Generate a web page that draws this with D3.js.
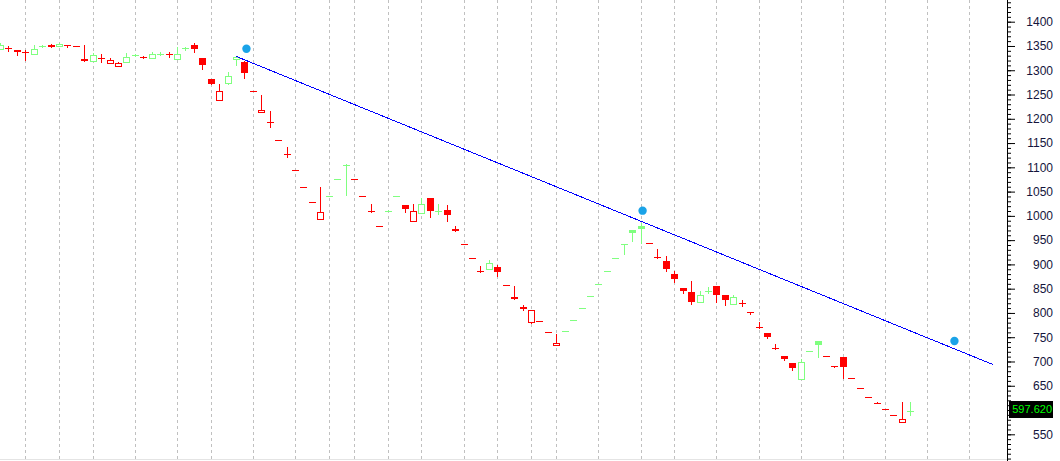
<!DOCTYPE html>
<html><head><meta charset="utf-8">
<script src="https://cdn.jsdelivr.net/npm/d3@7"></script>
<style>html,body{margin:0;padding:0;background:#fff;overflow:hidden}</style>
</head><body><svg id="c" width="1060" height="461"></svg>
<script>
// ---- data (daily OHLC, index = trading day) ----
const opens = [1344,1345,1342,1337,1333,1347,1351,1350.5,1351.5,1350,
  1323,1320,1325,1315.5,1308.5,1318,1329.5,1328,1325,1334,
  1332.5,1324,1345,1352,1325,1281,1238,1273,1324,1317,
  1257,1215,1194,1157,1127.5,1094,1060,1028,994,1041.5,
  1075,1105,1075,1041.5,1011,980,1010.5,1040,1022,990,
  1006.5,1036,1011,1013,972,942.5,913.5,887,890,895,
  858,832,813,781,784,761,733,763.5,785.5,810,
  835,860,887,913.5,942,970,980,944.5,916,908,
  881,852,844,823,846,856,836,819,821,802,
  772,759,728,711,697,663,722,743,711,690,
  710,666.5,646,627,614.3,602,590,575,598];
const highs = [1357,1350,1342,1342,1352,1351,1354,1357,1351.5,1350,
  1352,1336,1333,1325,1317,1336,1333,1330,1337,1337,
  1337,1348,1348,1357,1325,1281,1271,1296,1328,1320,
  1257,1249,1216,1157,1141,1094,1060,1028,1059,1041.5,
  1075,1106,1075,1041.5,1024,980,1012,1040,1022,1024,
  1036,1036,1024,1022,980,942.5,913.5,896,910,899,
  858,856,817,807,784,761,757,763.5,785.5,810,
  835,860,887,913.5,942.5,970,986,944.5,932,918,
  886,852,865,846,854,856,836,838,826,802,
  781,759,737,711,697,705,722,743,711,691,
  710,666.5,646,627,616,602,590,617,616];
const lows = [1344,1340,1332,1322,1333,1347,1347,1350.5,1347,1350,
  1319.5,1319.5,1317,1315.5,1308.5,1318,1329,1324.5,1324.5,1331,
  1328,1323.5,1342,1337,1303,1272,1238,1271,1311,1285,
  1257,1215,1183,1157,1121,1094,1060,1028,994,1041.5,
  1075,1043,1075,1041.5,1008,980,1009,1040,1008,990,
  1006.5,997.5,1003,989,969,942.5,913.5,884,890,877,
  858,828,807,780,784,761,733,763.5,785.5,810,
  835,860,887,913.5,922,948,944,944.5,913,886,
  863,842,819,823,841,823,817,819,815,798.5,
  768,748,725,704,683,663,722,708.5,711,688,
  667,666.5,646,627,614.3,602,590,575,589];
const closes = [1352,1345,1337,1336.5,1344,1350,1347,1354.5,1351,1350,
  1320,1331,1325,1321,1315,1328,1331.5,1325,1333,1334,
  1332.5,1333.5,1345,1344,1311,1272,1257,1288.5,1328,1295,
  1257,1219,1194,1157,1127.5,1094,1060,1028,1008.5,1041.5,
  1075,1105.5,1075,1041.5,1008,980,1010.5,1040,1014,1011,
  1025,1010,1011,1002,969,942.5,913.5,884,903,884,
  858,828,808,806.5,784,761,738,763.5,785.5,810,
  835,860,887,913.5,942.5,964,972,944.5,913,891,
  869.5,845,822,837,843,836,826,833,821,799,
  768,750.5,725,706,686,699.5,722,733,711,688.5,
  688,666.5,646,627,614.3,602,590,581,597.62];
const closeBeforeFirst = 1345;
const weekStarts = [3,7,11,16,21,25,30,35,39,42,46,50,55,59,63,66,71,76,80,85,90,95,100,105,110,115];
const trendIndex = [28, 117.85];
const trendValue = [1328.6, 693.4];
const pivotIndex = [29, 76, 113];
const pivotValue = [1344.3, 1010.7, 742.3];
const labelTicks = [550,650,700,750,800,850,900,950,1000,1050,1100,1150,1200,1250,1300,1350,1400];
const majorTicks = d3.range(550, 1450, 50);
const minorTicks = d3.range(500, 1450, 10);

// ---- drawing ----
const W = 1060, H = 461, axisX = 1007, plotBottom = 459;
const FONT = "12px 'Liberation Sans', Arial, sans-serif";
const svg = d3.select("#c");
svg.append("rect").attr("width", W).attr("height", H).attr("fill", "#fff");

const x = d3.scaleLinear().domain([3, 115]).range([25.3, 969.3]);
const y = d3.scaleLinear().domain([550, 1400]).range([434.3, 21.7]);

const GREEN = "#80ff80", RED = "#ff0000";

// vertical dashed gridlines
svg.append("g").selectAll("line").data(weekStarts).join("line")
  .attr("x1", d => Math.round(x(d)) + 0.5).attr("x2", d => Math.round(x(d)) + 0.5)
  .attr("y1", 0).attr("y2", plotBottom)
  .attr("stroke", "#c0c0c0").attr("stroke-width", 1).attr("stroke-dasharray", "3,3");

// bottom border
svg.append("line").attr("x1", 0).attr("x2", axisX).attr("y1", plotBottom + 0.5).attr("y2", plotBottom + 0.5)
  .attr("stroke", "#e4e4e4");

// candles
const candles = opens.map((o, i) => ({
  i, o, h: highs[i], l: lows[i], c: closes[i],
  pc: i === 0 ? closeBeforeFirst : closes[i - 1]
}));
const cg = svg.append("g").attr("shape-rendering", "crispEdges");
candles.forEach(d => {
  const col = d.c >= d.pc ? GREEN : RED;
  const cx = Math.round(x(d.i));
  const yh = Math.round(y(d.h)), yl = Math.round(y(d.l));
  cg.append("rect").attr("x", cx).attr("y", yh).attr("width", 1)
    .attr("height", Math.max(1, yl - yh + 1)).attr("fill", col);
  const top = Math.round(y(Math.max(d.o, d.c)));
  const bot = Math.round(y(Math.min(d.o, d.c)));
  const bh = bot - top;
  const left = cx - 3, bw = 7;
  if (d.c < d.o || bh < 2) {
    cg.append("rect").attr("x", left).attr("y", top).attr("width", bw)
      .attr("height", Math.max(1, bh)).attr("fill", col);
  } else {
    cg.append("rect").attr("x", left + 0.5).attr("y", top + 0.5).attr("width", bw - 1)
      .attr("height", bh).attr("fill", "#fff").attr("stroke", col).attr("stroke-width", 1);
  }
});

// trend line
svg.append("line")
  .attr("x1", x(trendIndex[0])).attr("y1", y(trendValue[0]))
  .attr("x2", x(trendIndex[1])).attr("y2", y(trendValue[1]))
  .attr("stroke", "#0000ff").attr("stroke-width", 1).attr("shape-rendering", "crispEdges");

// pivot dots
svg.append("g").selectAll("circle").data(pivotIndex).join("circle")
  .attr("cx", (d) => x(d) + 2).attr("cy", (d, k) => y(pivotValue[k]))
  .attr("r", 4.2).attr("fill", "#1aa3e8");

// right axis
svg.append("line").attr("x1", axisX + 0.5).attr("x2", axisX + 0.5).attr("y1", 0).attr("y2", H)
  .attr("stroke", "#000");
const minorAxis = d3.axisRight(y).tickValues(minorTicks).tickSize(4).tickFormat("");
const gMin = svg.append("g").attr("transform", `translate(${axisX},0)`).call(minorAxis);
gMin.select(".domain").remove();
const majorAxis = d3.axisRight(y).tickValues(majorTicks).tickSize(8)
  .tickFormat(d => labelTicks.includes(d) ? d3.format("d")(d) : "");
const gMaj = svg.append("g").attr("transform", `translate(${axisX},0)`).call(majorAxis);
gMaj.select(".domain").remove();
gMaj.selectAll("text").attr("x", 46).attr("text-anchor", "end")
  .attr("fill", "#14143c").style("font", FONT);

// last price label
const lp = closes[closes.length - 1];
const ly = y(lp) - 2;
svg.append("rect").attr("x", 1009).attr("y", Math.round(ly - 8.5)).attr("width", 44).attr("height", 17)
  .attr("fill", "#000");
svg.append("text").attr("x", 1052).attr("y", ly).attr("dy", "0.35em").attr("text-anchor", "end")
  .attr("fill", "#00ff00").style("font", "11px 'Liberation Sans', Arial, sans-serif")
  .text(d3.format(".3f")(lp));
</script></body></html>
